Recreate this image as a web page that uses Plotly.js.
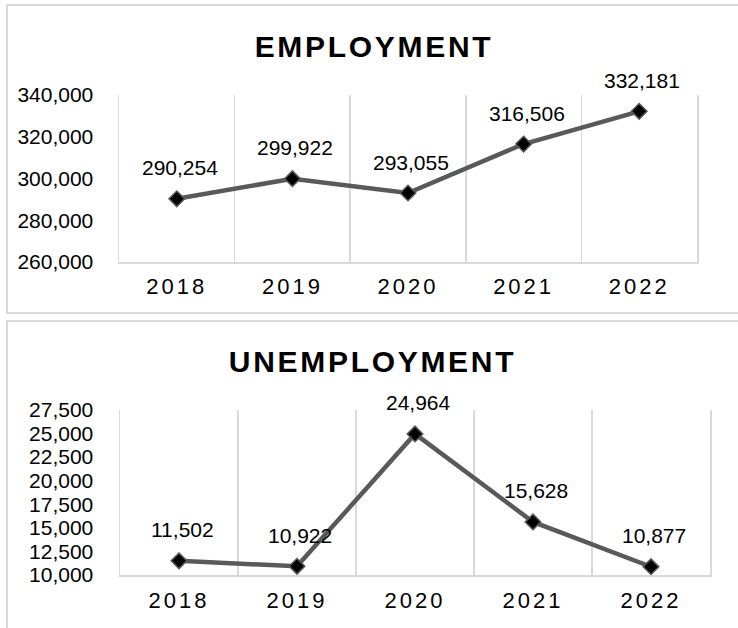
<!DOCTYPE html>
<html>
<head>
<meta charset="utf-8">
<script src="https://cdn.plot.ly/plotly-3.0.1.min.js"></script>
<style>
  html, body { margin:0; padding:0; background:#fff; overflow:hidden; width:738px; height:628px; }
  .box { position:absolute; left:6px; width:760px; border:2px solid #d9d9d9; background:#fff; }
  #c1 { top:4px; height:306px; }
  #c2 { top:320px; height:320px; }
  .gtitle { letter-spacing: 2.7px; }
  .xtick text { letter-spacing: 3px; }
</style>
</head>
<body>
<div id="c1" class="box"></div>
<div id="c2" class="box"></div>
<script>
const years = ['2018', '2019', '2020', '2021', '2022'];
const employment = [290254, 299922, 293055, 316506, 332181];
const unemployment = [11502, 10922, 24964, 15628, 10877];
const employmentTicks = [260000, 280000, 300000, 320000, 340000];
const unemploymentTicks = [10000, 12500, 15000, 17500, 20000, 22500, 25000, 27500];
const employmentTitle = 'EMPLOYMENT';
const unemploymentTitle = 'UNEMPLOYMENT';

const FONT = 'Liberation Sans, Arial, sans-serif';

function fmt(v) {
  return String(v).replace(/\B(?=(\d{3})+(?!\d))/g, ',');
}

function makeChart(div, values, ticks, title, opts) {
  const trace = {
    x: years, y: values, type: 'scatter', mode: 'lines+markers',
    line: { color: '#595959', width: 4.5 },
    marker: { symbol: 'diamond', size: 12, color: '#000', line: { color: '#595959', width: 1.5 } },
    hoverinfo: 'skip', cliponaxis: false
  };
  const annotations = years.map((yr, i) => ({
    xref: 'x', yref: 'y',
    x: i, y: values[i], text: fmt(values[i]),
    showarrow: false, yshift: 31, xshift: 3,
    xanchor: 'center', yanchor: 'middle',
    font: { family: FONT, size: 21, color: '#000' }
  }));
  const layout = {
    width: 760, height: opts.height,
    margin: opts.margin,
    paper_bgcolor: '#fff', plot_bgcolor: '#fff',
    showlegend: false,
    title: {
      text: '<b>' + title + '</b>', xref: 'container', yref: 'container',
      x: opts.tx, y: opts.ty, xanchor: 'center', yanchor: 'middle',
      font: { family: FONT, size: 30, color: '#000' }
    },
    xaxis: {
      type: 'category', tickson: 'boundaries', range: [-0.5, 4.5],
      showgrid: true, gridcolor: '#d9d9d9', gridwidth: 1.5,
      showline: true, linecolor: '#d9d9d9', linewidth: 2,
      ticks: '', zeroline: false, fixedrange: true,
      tickfont: { family: FONT, size: 22, color: '#000' },
      ticklabelstandoff: opts.xstand
    },
    yaxis: {
      range: [ticks[0], ticks[ticks.length - 1]], tickvals: ticks, tickformat: ',',
      showgrid: false, zeroline: false,
      showline: true, mirror: true, linecolor: '#d9d9d9', linewidth: 1.5,
      ticks: '', fixedrange: true,
      tickfont: { family: FONT, size: 21, color: '#000' },
      ticklabelstandoff: opts.ystand
    },
    annotations: annotations
  };
  Plotly.newPlot(div, [trace], layout, { displayModeBar: false, staticPlot: true });
}

makeChart('c1', employment, employmentTicks, employmentTitle, {
  height: 306, margin: { l: 111, r: 71, t: 89, b: 50, pad: 0 },
  tx: (374 - 8) / 760, ty: 1 - (46 - 6) / 306, xstand: 4, ystand: 20
});
makeChart('c2', unemployment, unemploymentTicks, unemploymentTitle, {
  height: 320, margin: { l: 112, r: 58, t: 88, b: 67, pad: 0 },
  tx: (372.5 - 8) / 760, ty: 1 - (361 - 322) / 320, xstand: 5, ystand: 21
});
</script>
</body>
</html>
